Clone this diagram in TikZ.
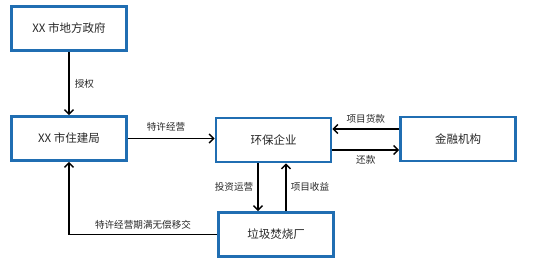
\documentclass[tikz,border=0pt]{standalone}
\usepackage{fontspec}
\setmainfont{Noto Sans CJK SC}
\usetikzlibrary{arrows.meta,positioning,calc}
\definecolor{boxblue}{RGB}{32, 110, 178}
\definecolor{textgray}{RGB}{40, 40, 40}

\begin{document}
\begin{tikzpicture}[x=1pt,y=-1pt,
    box/.style={draw=boxblue,line width=2.6pt,fill=white,minimum width=115pt,minimum height=44pt,inner sep=0pt,font=\fontsize{11.5}{13}\selectfont,text=textgray},
    arr/.style={line width=1.5pt,-{Straight Barb[length=4.5pt,width=9pt]}},
    lbl/.style={font=\fontsize{9.6}{11}\selectfont,text=textgray,inner sep=2pt}]
    \useasboundingbox[fill=white] (0,0) rectangle (534,270);

    % boxes
    \node[box] (zf)  at (69,28.5)   {XX 市地方政府};
    \node[box] (zjj) at (69,138.5)  {XX 市住建局};
    \node[box] (hb)  at (273.5,140) {环保企业};
    \node[box] (jr)  at (458,139)   {金融机构};
    \node[box] (ljc) at (276,234.5) {垃圾焚烧厂};

    % authorisation
    \draw[arr] (zf) -- (zjj) node[lbl,midway,right=3pt] (sq) {授权};

    % concession
    \draw[arr] (zjj.east) -- (zjj.east -| hb.west) node[lbl,pos=0.44,above=4pt] (tx) {特许经营};

    % loans and repayment
    \draw[arr] ([yshift=10pt]jr.west) -- ([yshift=10pt]jr.west -| hb.east) node[lbl,midway,above=3pt] (dk) {项目货款};
    \draw[arr] ([yshift=-10pt]hb.east) -- ([yshift=-10pt]hb.east -| jr.west) node[lbl,midway,below=3pt] (hk) {还款};

    % operation and revenue
    \draw[arr] ([xshift=-15.5pt]hb.south) -- ([xshift=-15.5pt]hb.south |- ljc.north) node[lbl,midway,left=2pt] (tz) {投资运营};
    \draw[arr] ([xshift=12.5pt]hb.south |- ljc.north) -- ([xshift=12.5pt]hb.south) node[lbl,midway,right=2pt] (sy) {项目收益};

    % transfer back
    \draw[arr] (ljc.west) -- (ljc.west -| zjj.south) -- (zjj.south);
    \node[lbl] (yj) at (143,225) {特许经营期满无偿移交};
\end{tikzpicture}
\end{document}
